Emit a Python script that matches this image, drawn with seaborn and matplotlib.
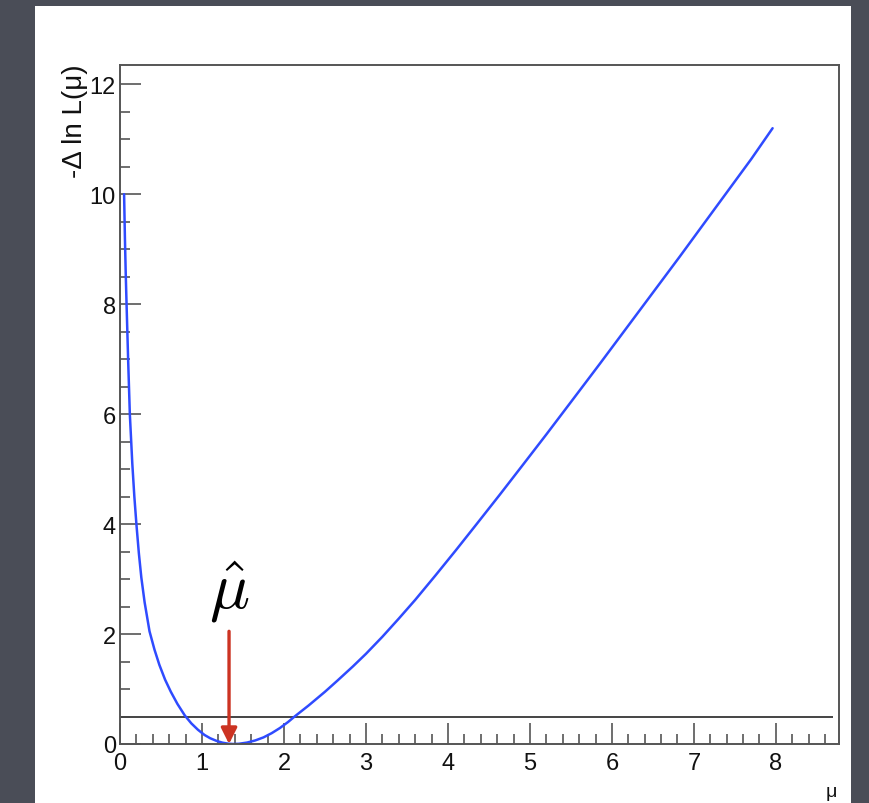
import matplotlib
matplotlib.use("Agg")
import matplotlib.pyplot as plt
from matplotlib.patches import Rectangle
from matplotlib.ticker import MultipleLocator
import seaborn as sns
import pandas as pd

# Profile of -delta log-likelihood versus signal strength mu
mu = [0.05, 0.06, 0.07, 0.08, 0.10, 0.12, 0.15, 0.175, 0.20, 0.23, 0.26,
      0.30, 0.36, 0.42, 0.48, 0.55, 0.62, 0.70, 0.79, 0.87, 0.95, 1.03,
      1.10, 1.18, 1.25, 1.32, 1.38, 1.45, 1.55, 1.65, 1.75, 1.85, 1.95,
      2.05, 2.13, 2.30, 2.50, 2.65, 2.84, 3.00, 3.20, 3.40, 3.60, 3.85,
      4.10, 4.35, 4.63, 4.90, 5.20, 5.50, 5.85, 6.10, 6.35, 6.60, 6.83,
      7.10, 7.40, 7.70, 7.96]
nll = [10.0, 9.2, 8.55, 8.0, 6.95, 6.0, 5.1, 4.5, 4.0, 3.47, 3.03,
       2.58, 2.05, 1.72, 1.44, 1.17, 0.95, 0.73, 0.52, 0.375, 0.26, 0.165,
       0.105, 0.055, 0.024, 0.006, 0.0, 0.004, 0.026, 0.065, 0.12, 0.197, 0.29,
       0.40, 0.50, 0.70, 0.95, 1.15, 1.41, 1.64, 1.95, 2.28, 2.62, 3.07,
       3.53, 4.0, 4.53, 5.05, 5.63, 6.22, 6.91, 7.41, 7.91, 8.41, 8.87,
       9.42, 10.03, 10.64, 11.2]

# Reference level and best-fit marker
level = 0.5
level_end = 8.7
mu_hat = 1.33
arrow_top = 2.05

x_ticks = [0, 1, 2, 3, 4, 5, 6, 7, 8]
y_ticks = [0, 2, 4, 6, 8, 10, 12]

df = pd.DataFrame({"mu": mu, "nll": nll})

sns.set_style("ticks")
plt.rcParams["font.family"] = ["Liberation Sans", "DejaVu Sans"]
plt.rcParams["mathtext.fontset"] = "cm"

W, H = 870, 804
fig = plt.figure(figsize=(W / 100, H / 100), dpi=100, facecolor="#4a4d57")

# white slide panel
fig.patches.append(Rectangle((35 / W, 0), (851 - 35) / W, (804 - 7) / H,
                             transform=fig.transFigure, facecolor="white",
                             edgecolor="none", zorder=-5))

ax = fig.add_axes([120 / W, 1 - 745 / H, (839 - 120) / W, (745 - 66) / H])
ax.set_zorder(2)
ax.set_facecolor("white")

sns.lineplot(data=df, x="mu", y="nll", ax=ax, color="#2f4bff", lw=1.8,
             estimator=None, sort=False)

ax.hlines(level, 0, level_end, color="#444444", lw=1.4, zorder=1)

ax.annotate("", xy=(mu_hat, 0), xytext=(mu_hat, arrow_top),
            arrowprops=dict(arrowstyle="-|>", color="#cc3322", lw=2.4,
                            mutation_scale=24, shrinkA=0, shrinkB=0))
ax.text(mu_hat, 2.18, r"$\hat{\mu}$", fontsize=48, ha="center", va="bottom",
        color="black")

ax.set_xlim(0, 8.77)
ax.set_ylim(0, 12.35)
ax.set_xticks(x_ticks)
ax.set_yticks(y_ticks)
ax.xaxis.set_minor_locator(MultipleLocator(0.2))
ax.yaxis.set_minor_locator(MultipleLocator(0.5))

spine_col = "#555555"
for s in ax.spines.values():
    s.set_color(spine_col)
    s.set_linewidth(1.4)

ax.tick_params(which="major", direction="in", length=15, width=1.2,
               color=spine_col, labelsize=17, labelcolor="#111111")
ax.tick_params(which="minor", direction="in", length=7.5, width=1.2,
               color=spine_col)
ax.tick_params(axis="x", which="major", pad=6)
ax.tick_params(axis="y", which="major", pad=3)

ax.set_xlabel("")
ax.set_ylabel("")

fig.text(75 / W, 1 - 64 / H, "-Δ ln L(μ)", rotation=90,
         ha="center", va="top", fontsize=20, color="#111111",
         zorder=3)
fig.text(837 / W, 1 - 801 / H, "μ", ha="right", va="bottom", fontsize=14,
         color="#111111", zorder=3)

fig.savefig("out.png", dpi=100, facecolor=fig.get_facecolor())
